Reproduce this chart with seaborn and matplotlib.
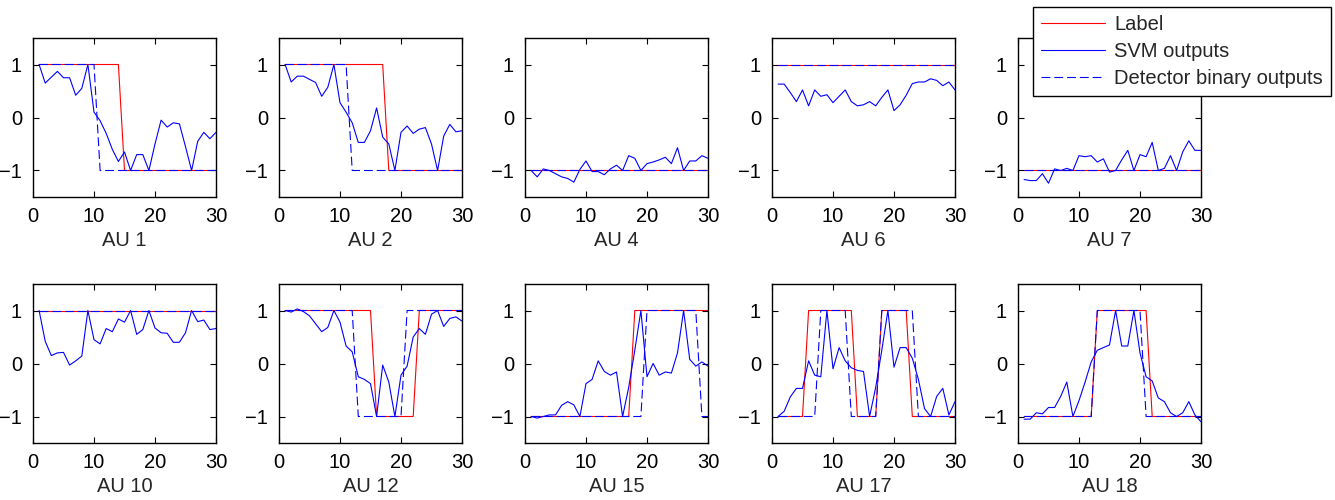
import numpy as np
import pandas as pd
import matplotlib
matplotlib.use("Agg")
import matplotlib.pyplot as plt
import seaborn as sns
from matplotlib.lines import Line2D

sns.set_style("ticks")
plt.rcParams['font.family'] = ['Liberation Sans', 'DejaVu Sans']

frames = list(range(1, 31))
au_names = ["AU 1", "AU 2", "AU 4", "AU 6", "AU 7",
            "AU 10", "AU 12", "AU 15", "AU 17", "AU 18"]

label_au1 = [1,1,1,1,1,1,1,1,1,1,1,1,1,1,-1,-1,-1,-1,-1,-1,-1,-1,-1,-1,-1,-1,-1,-1,-1,-1]
det_au1 = [1,1,1,1,1,1,1,1,1,1,-1,-1,-1,-1,-1,-1,-1,-1,-1,-1,-1,-1,-1,-1,-1,-1,-1,-1,-1,-1]
svm_au1 = [1.0,0.65,0.76,0.87,0.75,0.75,0.42,0.55,1.0,0.1,-0.06,-0.3,-0.6,-0.83,-0.65,-1.0,-0.7,-0.7,-1.0,-0.5,-0.05,-0.18,-0.1,-0.12,-0.55,-1.0,-0.45,-0.28,-0.4,-0.28]

label_au2 = [1,1,1,1,1,1,1,1,1,1,1,1,1,1,1,1,1,-1,-1,-1,-1,-1,-1,-1,-1,-1,-1,-1,-1,-1]
det_au2 = [1,1,1,1,1,1,1,1,1,1,1,-1,-1,-1,-1,-1,-1,-1,-1,-1,-1,-1,-1,-1,-1,-1,-1,-1,-1,-1]
svm_au2 = [1.0,0.67,0.78,0.78,0.72,0.66,0.4,0.57,1.0,0.28,0.1,-0.1,-0.47,-0.47,-0.25,0.18,-0.37,-0.5,-1.0,-0.28,-0.16,-0.3,-0.22,-0.19,-0.5,-1.0,-0.35,-0.13,-0.27,-0.25]

label_au4 = [-1,-1,-1,-1,-1,-1,-1,-1,-1,-1,-1,-1,-1,-1,-1,-1,-1,-1,-1,-1,-1,-1,-1,-1,-1,-1,-1,-1,-1,-1]
det_au4 = [-1,-1,-1,-1,-1,-1,-1,-1,-1,-1,-1,-1,-1,-1,-1,-1,-1,-1,-1,-1,-1,-1,-1,-1,-1,-1,-1,-1,-1,-1]
svm_au4 = [-1.0,-1.12,-0.97,-1.0,-1.06,-1.12,-1.15,-1.22,-0.98,-0.82,-1.02,-1.02,-1.08,-0.97,-0.9,-1.0,-0.72,-0.77,-1.0,-0.87,-0.84,-0.8,-0.75,-0.87,-0.57,-1.0,-0.82,-0.82,-0.72,-0.77]

label_au6 = [1,1,1,1,1,1,1,1,1,1,1,1,1,1,1,1,1,1,1,1,1,1,1,1,1,1,1,1,1,1]
det_au6 = [1,1,1,1,1,1,1,1,1,1,1,1,1,1,1,1,1,1,1,1,1,1,1,1,1,1,1,1,1,1]
svm_au6 = [0.63,0.63,0.47,0.3,0.52,0.22,0.52,0.4,0.43,0.28,0.4,0.52,0.3,0.22,0.24,0.3,0.22,0.38,0.52,0.13,0.24,0.42,0.64,0.67,0.67,0.73,0.7,0.6,0.67,0.52]

label_au7 = [-1,-1,-1,-1,-1,-1,-1,-1,-1,-1,-1,-1,-1,-1,-1,-1,-1,-1,-1,-1,-1,-1,-1,-1,-1,-1,-1,-1,-1,-1]
det_au7 = [-1,-1,-1,-1,-1,-1,-1,-1,-1,-1,-1,-1,-1,-1,-1,-1,-1,-1,-1,-1,-1,-1,-1,-1,-1,-1,-1,-1,-1,-1]
svm_au7 = [-1.17,-1.19,-1.19,-1.06,-1.24,-0.97,-1.0,-0.96,-1.0,-0.72,-0.74,-0.72,-0.84,-0.78,-1.03,-1.0,-0.8,-0.62,-1.0,-0.7,-0.74,-0.47,-1.0,-0.96,-0.72,-1.0,-0.65,-0.44,-0.62,-0.62]

label_au10 = [1,1,1,1,1,1,1,1,1,1,1,1,1,1,1,1,1,1,1,1,1,1,1,1,1,1,1,1,1,1]
det_au10 = [1,1,1,1,1,1,1,1,1,1,1,1,1,1,1,1,1,1,1,1,1,1,1,1,1,1,1,1,1,1]
svm_au10 = [1.0,0.42,0.15,0.2,0.21,-0.03,0.05,0.14,1.0,0.45,0.37,0.66,0.6,0.84,0.78,1.0,0.55,0.64,1.0,0.67,0.58,0.57,0.4,0.4,0.58,1.0,0.79,0.82,0.64,0.66]

label_au12 = [1,1,1,1,1,1,1,1,1,1,1,1,1,1,1,-1,-1,-1,-1,-1,-1,-1,1,1,1,1,1,1,1,1]
det_au12 = [1,1,1,1,1,1,1,1,1,1,1,1,-1,-1,-1,-1,-1,-1,-1,-1,1,1,1,1,1,1,1,1,1,1]
svm_au12 = [1.0,0.97,1.03,0.98,0.9,0.75,0.6,0.68,1.0,0.78,0.33,0.22,-0.25,-0.3,-0.38,-1.0,-0.03,-0.35,-1.0,-0.22,-0.05,0.5,0.66,0.55,0.93,1.0,0.7,0.85,0.88,0.8]

label_au15 = [-1,-1,-1,-1,-1,-1,-1,-1,-1,-1,-1,-1,-1,-1,-1,-1,-1,1,1,1,1,1,1,1,1,1,1,1,1,1]
det_au15 = [-1,-1,-1,-1,-1,-1,-1,-1,-1,-1,-1,-1,-1,-1,-1,-1,-1,-1,-1,1,1,1,1,1,1,1,1,1,-1,-1]
svm_au15 = [-1.0,-1.03,-1.0,-0.97,-0.97,-0.79,-0.72,-0.78,-1.0,-0.38,-0.3,0.05,-0.15,-0.22,-0.16,-1.0,-0.45,0.25,1.0,-0.25,0.0,-0.22,-0.16,-0.18,0.2,1.0,0.08,-0.05,0.03,-0.05]

label_au17 = [-1,-1,-1,-1,-1,1,1,1,1,1,1,1,1,-1,-1,-1,-1,1,1,1,1,1,-1,-1,-1,-1,-1,-1,-1,-1]
det_au17 = [-1,-1,-1,-1,-1,-1,-1,1,1,1,1,1,-1,-1,-1,-1,-1,1,1,1,1,1,1,-1,-1,-1,-1,-1,-1,-1]
svm_au17 = [-1.0,-0.9,-0.63,-0.47,-0.47,0.05,-0.22,-0.25,1.0,-0.1,0.3,0.05,-0.08,-0.13,-0.15,-1.0,-0.45,0.25,1.0,-0.07,0.3,0.3,0.1,-0.3,-0.85,-1.0,-0.62,-0.47,-0.97,-0.72]

label_au18 = [-1,-1,-1,-1,-1,-1,-1,-1,-1,-1,-1,-1,1,1,1,1,1,1,1,1,1,-1,-1,-1,-1,-1,-1,-1,-1,-1]
det_au18 = [-1,-1,-1,-1,-1,-1,-1,-1,-1,-1,-1,-1,1,1,1,1,1,1,1,1,-1,-1,-1,-1,-1,-1,-1,-1,-1,-1]
svm_au18 = [-1.05,-1.05,-0.93,-0.95,-0.83,-0.83,-0.62,-0.35,-1.0,-0.7,-0.35,0.03,0.25,0.3,0.35,1.0,0.33,0.33,1.0,0.2,-0.25,-0.33,-0.65,-0.72,-0.93,-1.0,-0.93,-0.72,-0.97,-1.1]

labels = [label_au1, label_au2, label_au4, label_au6, label_au7,
          label_au10, label_au12, label_au15, label_au17, label_au18]
dets = [det_au1, det_au2, det_au4, det_au6, det_au7,
        det_au10, det_au12, det_au15, det_au17, det_au18]
svms = [svm_au1, svm_au2, svm_au4, svm_au6, svm_au7,
        svm_au10, svm_au12, svm_au15, svm_au17, svm_au18]

W, H = 1335, 500
fig = plt.figure(figsize=(W / 100, H / 100), dpi=100)

col_left = [33, 279, 525, 772, 1018]
ax_w = 183
ax_h = 159
row_top = [38, 284]

FS = 14.5
red = "#ff0000"
blue = "#0000ff"
lw = 0.8
dash = (8, 3.5)

for i, name in enumerate(au_names):
    r, c = divmod(i, 5)
    left = col_left[c] / W
    bottom = 1 - (row_top[r] + ax_h) / H
    ax = fig.add_axes([left, bottom, ax_w / W, ax_h / H])
    df = pd.DataFrame({"frame": frames, "label": labels[i],
                       "svm": svms[i], "det": dets[i]})
    sns.lineplot(data=df, x="frame", y="label", ax=ax, color=red, lw=lw)
    sns.lineplot(data=df, x="frame", y="svm", ax=ax, color=blue, lw=lw)
    sns.lineplot(data=df, x="frame", y="det", ax=ax, color=blue, lw=lw,
                 dashes=False)
    ax.lines[-1].set_dashes(dash)
    ax.set_xlim(0, 30)
    ax.set_ylim(-1.5, 1.5)
    ax.set_xticks([0, 10, 20, 30])
    ax.set_yticks([-1, 0, 1])
    ax.tick_params(direction="in", top=True, right=True, length=4,
                   width=0.8, labelsize=FS, colors="black")
    ax.tick_params(axis="x", pad=7)
    ax.tick_params(axis="y", pad=8)
    for sp in ax.spines.values():
        sp.set_visible(True)
        sp.set_color("black")
        sp.set_linewidth(1.0)
    ax.set_xlabel(name, fontsize=FS, labelpad=4)
    ax.set_ylabel("")

handles = [Line2D([0], [0], color=red, lw=lw),
           Line2D([0], [0], color=blue, lw=lw),
           Line2D([0], [0], color=blue, lw=lw, dashes=dash)]
leg = fig.legend(handles, ["Label", "SVM outputs", "Detector binary outputs"],
                 loc="upper right", bbox_to_anchor=(1331 / W, 1 - 7 / H),
                 bbox_transform=fig.transFigure,
                 fontsize=FS, frameon=True, fancybox=False,
                 edgecolor="black", framealpha=1, handlelength=3.2,
                 handletextpad=0.45, borderpad=0.4, labelspacing=0.4,
                 borderaxespad=0)
leg.get_frame().set_linewidth(1.0)

fig.savefig("out.png", dpi=100)
